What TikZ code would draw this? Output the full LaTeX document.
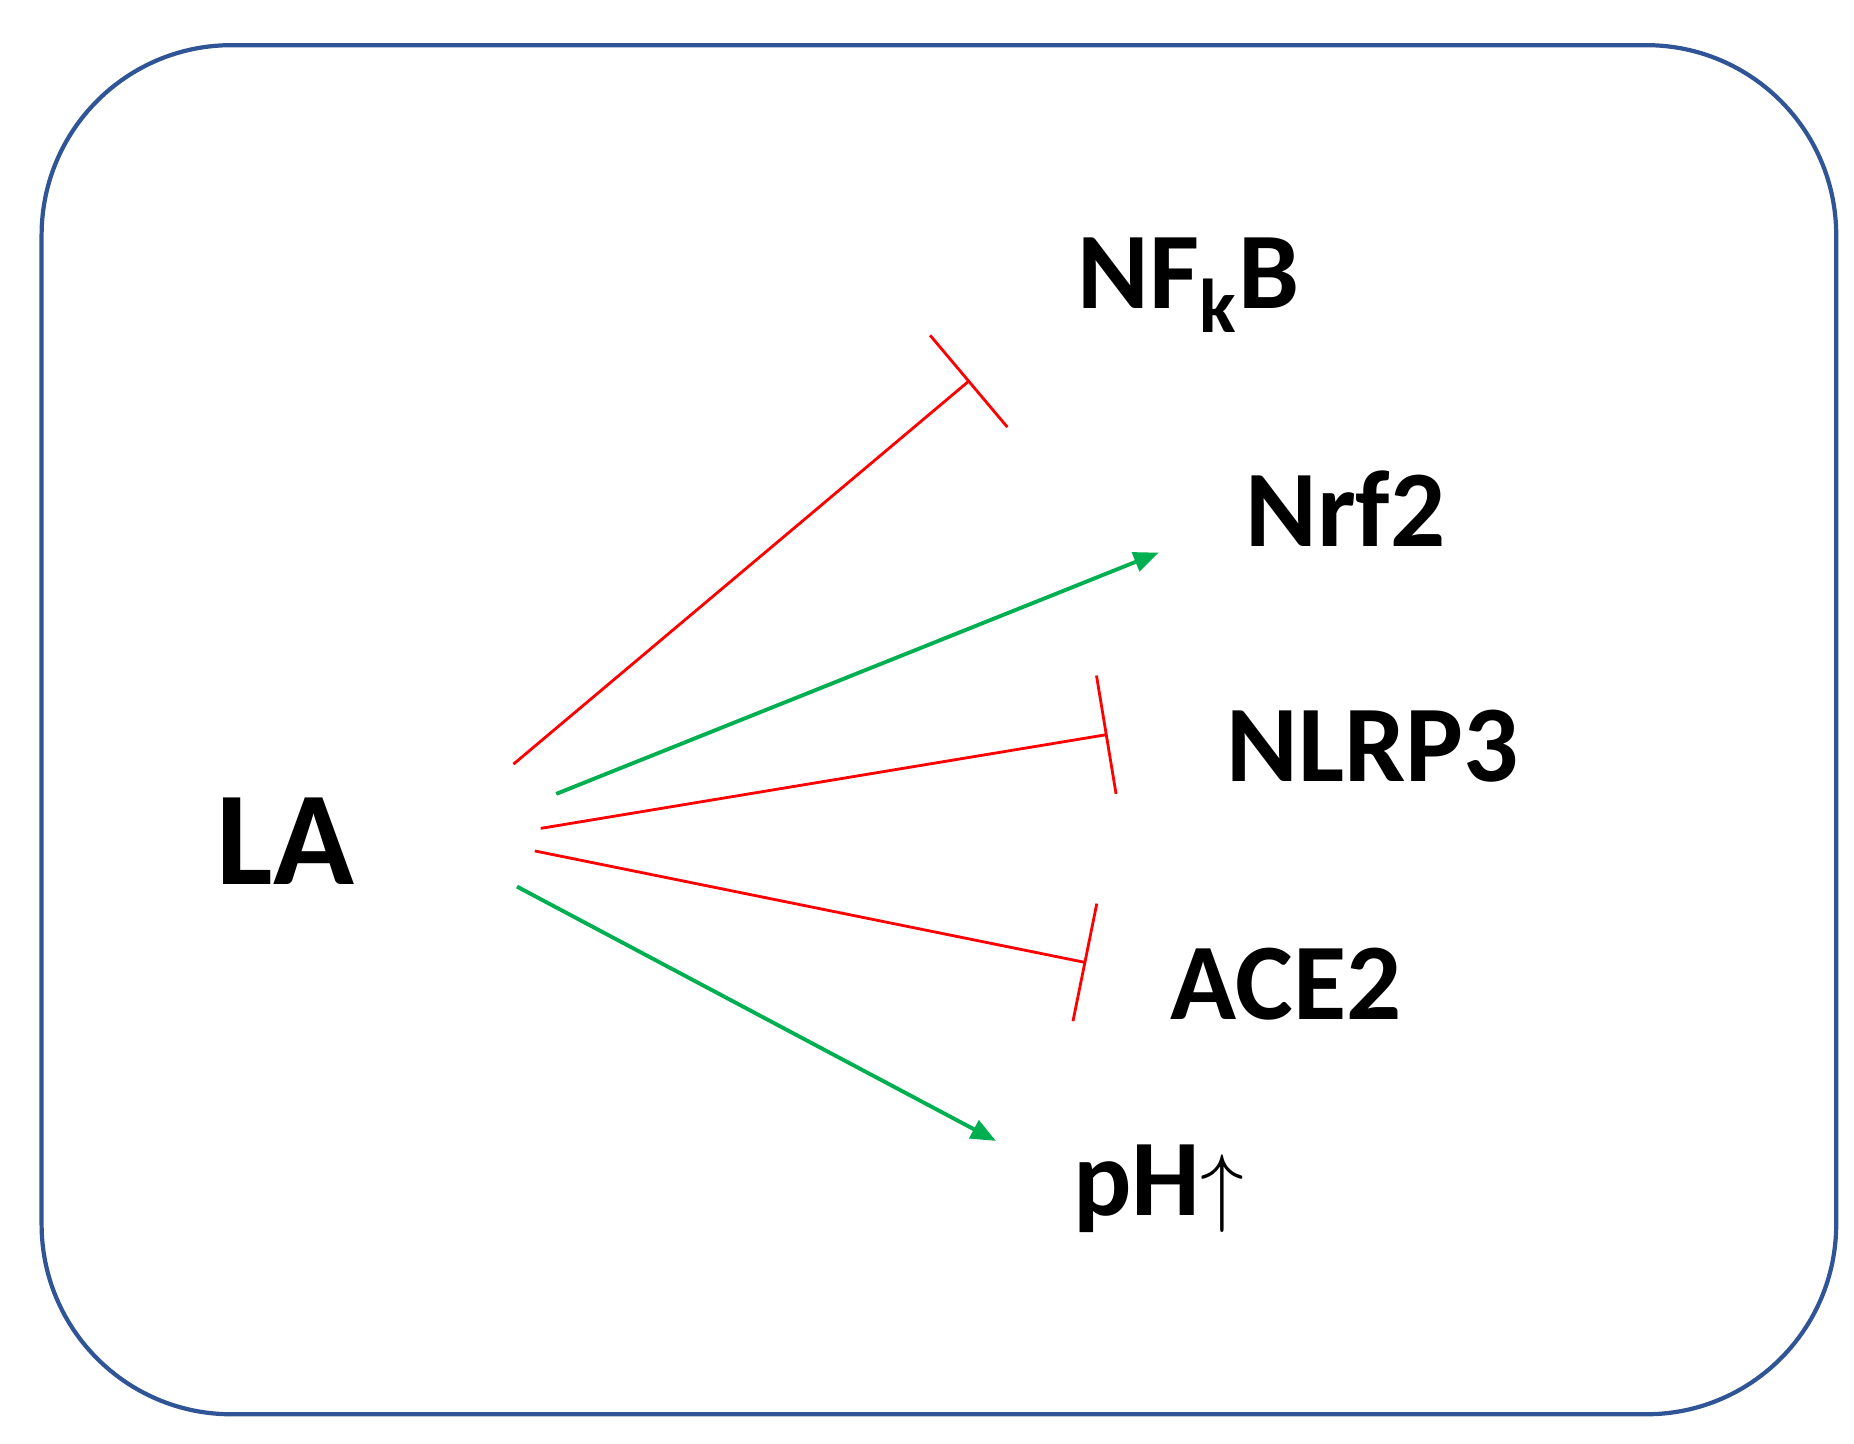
\documentclass[tikz,border=0pt]{standalone}
\usepackage{fontspec}
\setmainfont{Carlito}
\usetikzlibrary{arrows.meta}
\begin{document}
\begin{tikzpicture}[
        x=0.011885cm, y=-0.011885cm,
        every node/.style={font=\bfseries},
        target/.style={font=\bfseries\fontsize{31}{35}\selectfont},
        act/.style={draw={rgb,255:red,0;green,176;blue,80},line width=1.1pt,-{Triangle[length=2.5mm,width=2mm]}},
        inh/.style={draw=red,line width=0.8pt,-{Bar[width=1.2cm]}}
      ]
      \useasboundingbox (0,0) rectangle (1560,1215);
      % Frame
      \draw[draw={rgb,255:red,47;green,85;blue,151},line width=1.2pt,rounded corners=1.9cm] (35,38) rectangle (1545,1190);

      % Labels
      \node (la) at (240,708) {\fontsize{38}{44}\selectfont LA};
      \node[target] (nfkb) at (1000,240) {NF\textsubscript{k}B};
      \node[target] (nrf) at (1132,428) {Nrf2};
      \node[target] (nlrp) at (1155,628) {NLRP3};
      \node[target] (ace) at (1082,828) {ACE2};
      \node[target] (ph) at (975,1000) {pH{\fontsize{40}{40}\selectfont$\uparrow$}};

      % Ends of the connectors
      \coordinate (s1) at (432,643); \coordinate (e1) at (816,320);
      \coordinate (s2) at (468,668); \coordinate (e2) at (975,465);
      \coordinate (s3) at (455,697); \coordinate (e3) at (932,618);
      \coordinate (s4) at (450,716); \coordinate (e4) at (914,810);
      \coordinate (s5) at (435,746); \coordinate (e5) at (838,960);

      \draw[inh] (s1) -- (e1);
      \draw[act] (s2) -- (e2);
      \draw[inh] (s3) -- (e3);
      \draw[inh] (s4) -- (e4);
      \draw[act] (s5) -- (e5);
    \end{tikzpicture}
\end{document}
